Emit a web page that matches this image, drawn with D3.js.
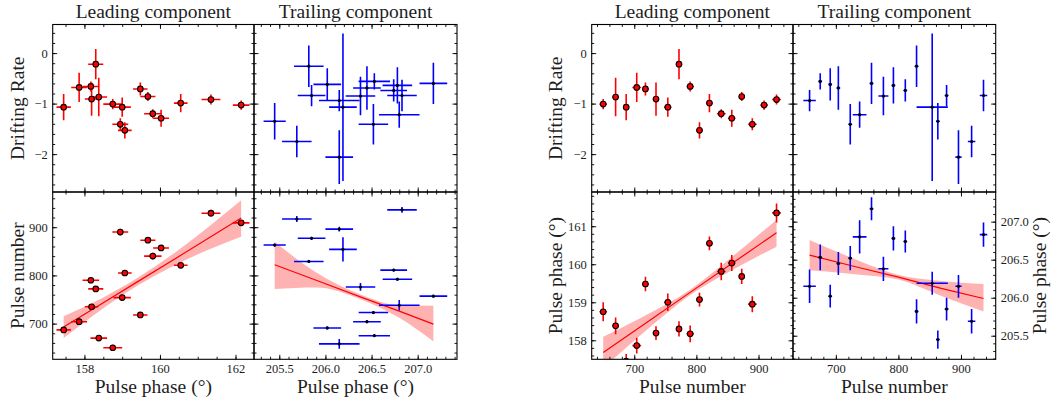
<!DOCTYPE html>
<html>
<head>
<meta charset="utf-8">
<script src="https://cdn.jsdelivr.net/npm/d3@7"></script>
<style>
  body { margin: 0; background: #fff; }
  svg { display: block; }
  text { font-family: "Liberation Serif", "DejaVu Serif", serif; fill: #1e1e1e; }
</style>
</head>
<body>
<svg id="chart" width="1054" height="408"></svg>
<script>
// ---- Leading component: one entry per pulse ----
const leadPulse     = [650, 670, 687, 704, 718, 735, 754, 772, 790, 805, 821, 840, 857, 873, 890, 909, 929];
const leadPulseErr  = [6, 5, 5, 7, 5, 5, 6, 5, 6, 5, 5, 7, 6, 5, 7, 6, 7];
const leadPhase     = [158.75, 158.38, 157.45, 157.86, 159.48, 158.19, 159.00, 158.30, 158.17, 159.07, 160.55, 159.81, 160.03, 159.68, 158.95, 162.15, 161.35];
const leadPhaseErr  = [0.25, 0.22, 0.19, 0.21, 0.19, 0.18, 0.23, 0.20, 0.22, 0.18, 0.18, 0.23, 0.21, 0.20, 0.21, 0.22, 0.25];
const leadRate      = [-1.01, -0.87, -1.07, -0.68, -0.71, -0.91, -1.07, -0.22, -0.66, -1.53, -0.99, -1.20, -1.29, -0.86, -1.41, -1.03, -0.92];
const leadRateErr   = [0.10, 0.38, 0.26, 0.29, 0.13, 0.33, 0.19, 0.30, 0.10, 0.16, 0.18, 0.09, 0.17, 0.09, 0.12, 0.09, 0.10];

// ---- Trailing component: one entry per pulse ----
const trailPulse    = [658, 675, 691, 704, 723, 738, 757, 776, 792, 811, 829, 854, 863, 877, 896, 917, 936];
const trailPulseErr = [10, 3, 3, 3, 3, 11, 3, 8, 3, 3, 3, 25, 3, 3, 5, 6, 6];
const trailPhase    = [206.15, 206.53, 206.02, 206.45, 206.52, 206.80, 207.17, 206.38, 206.78, 206.74, 205.82, 206.19, 205.45, 205.85, 206.15, 205.69, 206.83];
const trailPhaseErr = [0.22, 0.17, 0.15, 0.15, 0.16, 0.22, 0.15, 0.16, 0.16, 0.145, 0.16, 0.15, 0.12, 0.15, 0.15, 0.16, 0.16];
const trailRate     = [-0.94, -0.56, -0.62, -0.69, -1.41, -1.22, -0.60, -0.85, -0.64, -0.74, -0.26, -1.07, -1.35, -0.84, -2.06, -1.75, -0.84];
const trailRateErr  = [0.21, 0.16, 0.32, 0.43, 0.40, 0.26, 0.41, 0.38, 0.36, 0.22, 0.41, 1.46, 0.36, 0.21, 0.53, 0.31, 0.31];

// ---- Linear fits with confidence bands (x, fit, lower, upper) ----
const fitNvsLeadX  = [157.45, 158.5, 159.4, 160.5, 162.15];
const fitNvsLeadY  = [693, 743.4, 786.6, 839.4, 919];
const fitNvsLeadLo = [670, 732, 778.6, 825.4, 880];
const fitNvsLeadHi = [715.5, 754.4, 794.6, 853.4, 956];

const fitNvsTrailX  = [205.45, 205.9, 206.4, 206.8, 207.17];
const fitNvsTrailY  = [822, 790, 754, 726, 699];
const fitNvsTrailLo = [772, 775, 749, 712, 663];
const fitNvsTrailHi = [870, 806, 759, 738, 737];

const fitLeadVsNX  = [650, 720, 790, 860, 929];
const fitLeadVsNY  = [157.68, 158.47, 159.26, 160.05, 160.83];
const fitLeadVsNLo = [157.27, 158.27, 159.19, 159.87, 160.46];
const fitLeadVsNHi = [158.09, 158.67, 159.33, 160.23, 161.17];

const fitTrailVsNX  = [658, 730, 800, 870, 936];
const fitTrailVsNY  = [206.56, 206.41, 206.27, 206.12, 205.99];
const fitTrailVsNLo = [206.36, 206.31, 206.24, 206.02, 205.82];
const fitTrailVsNHi = [206.76, 206.51, 206.30, 206.22, 206.18];

// ---- Tick values ----
const rateTicks       = [-2, -1, 0];
const leadPhaseTicks  = [158, 160, 162];
const trailPhaseTicks = [205.5, 206.0, 206.5, 207.0];
const pulseTicks      = [700, 800, 900];
const leadPhaseYTicks = [158, 159, 160, 161];

const titles = ["Leading component", "Trailing component"];

// ---- Layout ----
const svg = d3.select("#chart");
const LX = [52.7, 254, 457];
const RX = [591.7, 793, 995.7];
const ROWS = [24.5, 192, 359.3];

const minorRange = (dom, step) => {
  const lo = Math.ceil(dom[0] / step - 1e-9), hi = Math.floor(dom[1] / step + 1e-9);
  return d3.range(lo, hi + 1).map(k => +(k * step).toFixed(4));
};

// ---- Scales ----
const xLeadPhase  = d3.scaleLinear([157.16, 162.49], [LX[0], LX[1]]);
const xTrailPhase = d3.scaleLinear([205.226, 207.426], [LX[1], LX[2]]);
const yRateL      = d3.scaleLinear([-2.75, 0.566], [ROWS[1], ROWS[0]]);
const yPulseL     = d3.scaleLinear([626, 973], [ROWS[2], ROWS[1]]);
const xPulseR1    = d3.scaleLinear([631.5, 955.5], [RX[0], RX[1]]);
const xPulseR2    = d3.scaleLinear([631.5, 955.5], [RX[1], RX[2]]);
const yRateR      = d3.scaleLinear([-2.75, 0.566], [ROWS[1], ROWS[0]]);
const yLeadPhR    = d3.scaleLinear([157.5, 161.9], [ROWS[2], ROWS[1]]);
const yTrailPhR   = d3.scaleLinear([205.19, 207.39], [ROWS[2], ROWS[1]]);

let clipId = 0;
const MAJ = 4.5, MIN = 2.5;

function panel(xs, ys, o) {
  const [x0, x1] = xs.range(), [y1, y0] = ys.range();
  const g = svg.append("g");
  const id = "clip" + (clipId++);
  g.append("clipPath").attr("id", id).append("rect")
    .attr("x", x0).attr("y", y0).attr("width", x1 - x0).attr("height", y1 - y0);
  const plot = g.append("g").attr("clip-path", `url(#${id})`);

  const xMinor = minorRange(xs.domain(), o.xMinor);
  const yMinor = minorRange(ys.domain(), o.yMinor);
  const axes = [
    [d3.axisBottom(xs), `translate(0,${y1})`, o.xMajor, xMinor, o.xLabels ? o.xFmt : null],
    [d3.axisTop(xs),    `translate(0,${y0})`, o.xMajor, xMinor, null],
    [d3.axisLeft(ys),   `translate(${x0},0)`, o.yMajor, yMinor, o.yLabels === "left" ? o.yFmt : null],
    [d3.axisRight(ys),  `translate(${x1},0)`, o.yMajor, yMinor, o.yLabels === "right" ? o.yFmt : null]
  ];
  axes.forEach(([ax, tr, major, minor, fmt]) => {
    const gm = g.append("g").attr("transform", tr)
      .call(ax.tickValues(minor).tickSize(-MIN).tickFormat(""));
    gm.select(".domain").remove();
    const gM = g.append("g").attr("transform", tr)
      .call(ax.tickValues(major).tickSize(-MAJ).tickPadding(fmt ? 5 : 0).tickFormat(fmt || ""));
    gM.select(".domain").remove();
    gM.selectAll("text").style("font-size", "12.5px").attr("fill", "#2a2a2a");
  });
  g.selectAll(".tick line").attr("stroke", "#000").attr("stroke-width", 0.9);
  g.append("rect").attr("x", x0).attr("y", y0).attr("width", x1 - x0).attr("height", y1 - y0)
    .attr("fill", "none").attr("stroke", "#000").attr("stroke-width", 1.1);
  return plot;
}

function band(plot, xs, ys, bx, by, lo, hi) {
  const area = d3.area().x((d, i) => xs(bx[i])).y0((d, i) => ys(lo[i])).y1((d, i) => ys(hi[i])).curve(d3.curveMonotoneX);
  plot.append("path").attr("d", area(bx)).attr("fill", "rgba(255,0,0,0.3)");
  const line = d3.line().x((d, i) => xs(bx[i])).y((d, i) => ys(by[i]));
  plot.append("path").attr("d", line(bx)).attr("fill", "none").attr("stroke", "#ff0000").attr("stroke-width", 1.2);
}

function errorbars(plot, xs, ys, xv, xe, yv, ye, color, lead) {
  const idx = d3.range(xv.length);
  const gE = plot.append("g").attr("stroke", color).attr("stroke-width", 1.6);
  gE.selectAll(".h").data(idx).join("line")
    .attr("x1", i => xs(xv[i] - xe[i])).attr("x2", i => xs(xv[i] + xe[i]))
    .attr("y1", i => ys(yv[i])).attr("y2", i => ys(yv[i]));
  gE.selectAll(".v").data(idx).join("line")
    .attr("x1", i => xs(xv[i])).attr("x2", i => xs(xv[i]))
    .attr("y1", i => ys(yv[i] - ye[i])).attr("y2", i => ys(yv[i] + ye[i]));
  const gP = plot.append("g");
  if (lead) {
    gP.selectAll("circle").data(idx).join("circle")
      .attr("cx", i => xs(xv[i])).attr("cy", i => ys(yv[i])).attr("r", 2.8)
      .attr("fill", "#ff0000").attr("stroke", "#000").attr("stroke-width", 1.1);
  } else {
    gP.selectAll("circle").data(idx).join("circle")
      .attr("cx", i => xs(xv[i])).attr("cy", i => ys(yv[i])).attr("r", 1.6)
      .attr("fill", "#000");
  }
}

const fInt = d3.format("d");
const f1 = d3.format(".1f");

// ---- Left figure: against pulse phase ----
let p = panel(xLeadPhase, yRateL, { xMajor: leadPhaseTicks, xMinor: 0.5, yMajor: rateTicks, yMinor: 0.2, xLabels: false, yLabels: "left", yFmt: fInt });
errorbars(p, xLeadPhase, yRateL, leadPhase, leadPhaseErr, leadRate, leadRateErr, "#ff0000", true);

p = panel(xTrailPhase, yRateL, { xMajor: trailPhaseTicks, xMinor: 0.1, yMajor: rateTicks, yMinor: 0.2, xLabels: false, yLabels: null });
errorbars(p, xTrailPhase, yRateL, trailPhase, trailPhaseErr, trailRate, trailRateErr, "#0000ff", false);

p = panel(xLeadPhase, yPulseL, { xMajor: leadPhaseTicks, xMinor: 0.5, yMajor: pulseTicks, yMinor: 20, xLabels: true, xFmt: fInt, yLabels: "left", yFmt: fInt });
band(p, xLeadPhase, yPulseL, fitNvsLeadX, fitNvsLeadY, fitNvsLeadLo, fitNvsLeadHi);
errorbars(p, xLeadPhase, yPulseL, leadPhase, leadPhaseErr, leadPulse, leadPulseErr, "#ff0000", true);

p = panel(xTrailPhase, yPulseL, { xMajor: trailPhaseTicks, xMinor: 0.1, yMajor: pulseTicks, yMinor: 20, xLabels: true, xFmt: f1, yLabels: null });
band(p, xTrailPhase, yPulseL, fitNvsTrailX, fitNvsTrailY, fitNvsTrailLo, fitNvsTrailHi);
errorbars(p, xTrailPhase, yPulseL, trailPhase, trailPhaseErr, trailPulse, trailPulseErr, "#0000ff", false);

// ---- Right figure: against pulse number ----
p = panel(xPulseR1, yRateR, { xMajor: pulseTicks, xMinor: 20, yMajor: rateTicks, yMinor: 0.2, xLabels: false, yLabels: "left", yFmt: fInt });
errorbars(p, xPulseR1, yRateR, leadPulse, leadPulseErr, leadRate, leadRateErr, "#ff0000", true);

p = panel(xPulseR2, yRateR, { xMajor: pulseTicks, xMinor: 20, yMajor: rateTicks, yMinor: 0.2, xLabels: false, yLabels: null });
errorbars(p, xPulseR2, yRateR, trailPulse, trailPulseErr, trailRate, trailRateErr, "#0000ff", false);

p = panel(xPulseR1, yLeadPhR, { xMajor: pulseTicks, xMinor: 20, yMajor: leadPhaseYTicks, yMinor: 0.2, xLabels: true, xFmt: fInt, yLabels: "left", yFmt: fInt });
band(p, xPulseR1, yLeadPhR, fitLeadVsNX, fitLeadVsNY, fitLeadVsNLo, fitLeadVsNHi);
errorbars(p, xPulseR1, yLeadPhR, leadPulse, leadPulseErr, leadPhase, leadPhaseErr, "#ff0000", true);

p = panel(xPulseR2, yTrailPhR, { xMajor: pulseTicks, xMinor: 20, yMajor: trailPhaseTicks, yMinor: 0.1, xLabels: true, xFmt: fInt, yLabels: "right", yFmt: f1 });
band(p, xPulseR2, yTrailPhR, fitTrailVsNX, fitTrailVsNY, fitTrailVsNLo, fitTrailVsNHi);
errorbars(p, xPulseR2, yTrailPhR, trailPulse, trailPulseErr, trailPhase, trailPhaseErr, "#0000ff", false);

// ---- Titles and axis labels ----
const big = "19.5px";
[[LX[0], LX[1]], [LX[1], LX[2]], [RX[0], RX[1]], [RX[1], RX[2]]].forEach((c, i) => {
  svg.append("text").attr("x", (c[0] + c[1]) / 2).attr("y", 17.5).attr("text-anchor", "middle")
    .style("font-size", big).text(titles[i % 2]);
  svg.append("text").attr("x", (c[0] + c[1]) / 2).attr("y", 393).attr("text-anchor", "middle")
    .style("font-size", big).text(i < 2 ? "Pulse phase (°)" : "Pulse number");
});
function vlabel(x, yc, txt) {
  svg.append("text").attr("transform", `translate(${x},${yc}) rotate(-90)`).attr("text-anchor", "middle")
    .style("font-size", big).text(txt);
}
vlabel(24, (ROWS[0] + ROWS[1]) / 2, "Drifting Rate");
vlabel(24, (ROWS[1] + ROWS[2]) / 2, "Pulse number");
vlabel(562, (ROWS[0] + ROWS[1]) / 2, "Drifting Rate");
vlabel(562, (ROWS[1] + ROWS[2]) / 2, "Pulse phase (°)");
vlabel(1046, (ROWS[1] + ROWS[2]) / 2, "Pulse phase (°)");
</script>
</body>
</html>
